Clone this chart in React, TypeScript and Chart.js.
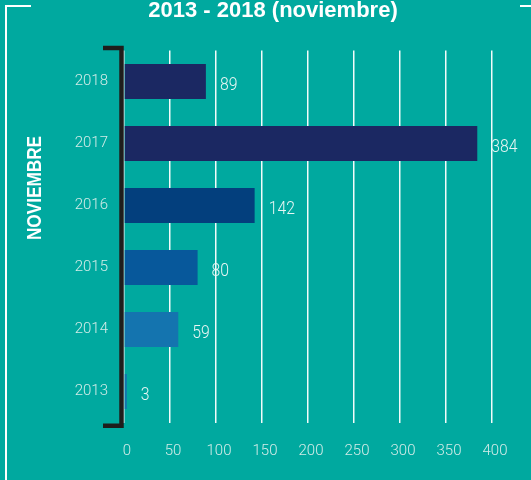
import React, { useEffect, useRef } from "react";
import { Chart, registerables } from "chart.js";

Chart.register(...registerables);

const categories = ["2018", "2017", "2016", "2015", "2014", "2013"];
const values = [89, 384, 142, 80, 59, 3];
const barColors = ["#1b2862", "#1b2862", "#033f7d", "#07589b", "#1474af", "#1474af"];
const xTicks = [0, 50, 100, 150, 200, 250, 300, 350, 400];
const titleText = "2013 - 2018 (noviembre)";
const axisTitle = "NOVIEMBRE";

const BG = "#00a99f";

const decorPlugin = {
  id: "decor",
  beforeDraw(chart: any) {
    const { ctx, width, height } = chart;
    ctx.save();
    ctx.fillStyle = BG;
    ctx.fillRect(0, 0, width, height);
    // white frame
    ctx.strokeStyle = "#ffffff";
    ctx.lineWidth = 2;
    ctx.beginPath();
    ctx.moveTo(31, 6);
    ctx.lineTo(6, 6);
    ctx.lineTo(6, height);
    ctx.moveTo(520, 6);
    ctx.lineTo(width, 6);
    ctx.stroke();
    // title
    ctx.fillStyle = "#ffffff";
    ctx.font = "bold 22px 'Liberation Sans', Arial, sans-serif";
    ctx.textAlign = "center";
    ctx.textBaseline = "alphabetic";
    ctx.fillText(titleText, 273, 16.5);
    // vertical axis title
    ctx.save();
    ctx.translate(35, 188);
    ctx.rotate(-Math.PI / 2);
    ctx.scale(0.86, 1);
    ctx.font = "bold 20px 'Liberation Sans', Arial, sans-serif";
    ctx.textBaseline = "middle";
    ctx.fillText(axisTitle, 0, 0);
    ctx.restore();
    ctx.restore();
  },
  afterDatasetsDraw(chart: any) {
    const { ctx, chartArea } = chart;
    ctx.save();
    // bracket
    ctx.strokeStyle = "#1e1e1c";
    ctx.lineWidth = 4.5;
    ctx.lineJoin = "miter";
    ctx.beginPath();
    ctx.moveTo(chartArea.left - 21, chartArea.top - 2.5);
    ctx.lineTo(chartArea.left - 2.5, chartArea.top - 2.5);
    ctx.lineTo(chartArea.left - 2.5, chartArea.bottom + 3.3);
    ctx.lineTo(chartArea.left - 21, chartArea.bottom + 3.3);
    ctx.stroke();
    // value labels
    const meta = chart.getDatasetMeta(0);
    ctx.fillStyle = "#e8f6f4";
    ctx.textAlign = "left";
    ctx.textBaseline = "middle";
    meta.data.forEach((bar: any, i: number) => {
      ctx.save();
      ctx.translate(bar.x + 14, bar.y + 3.5);
      ctx.scale(0.83, 1);
      ctx.font = "300 19px Roboto, 'Liberation Sans', sans-serif";
      ctx.fillText(String(values[i]), 0, 0);
      ctx.restore();
    });
    ctx.restore();
  },
};

export default function App() {
  const ref = useRef<HTMLCanvasElement | null>(null);
  useEffect(() => {
    if (!ref.current) return;
    const chart = new Chart(ref.current, {
      type: "bar",
      data: {
        labels: categories,
        datasets: [
          {
            data: values,
            backgroundColor: barColors,
            borderWidth: 0,
            barPercentage: 0.565,
            categoryPercentage: 1,
          },
        ],
      },
      options: {
        indexAxis: "y",
        animation: false,
        responsive: false,
        maintainAspectRatio: false,
        layout: { padding: { top: 50.5, right: 39, bottom: 0, left: 0 } },
        plugins: {
          legend: { display: false },
          title: { display: false },
          tooltip: { enabled: false },
        },
        scales: {
          x: {
            type: "linear",
            min: 0,
            max: 400,
            afterBuildTicks: (scale: any) => {
              scale.ticks = xTicks.map((v) => ({ value: v }));
            },
            afterFit: (scale: any) => {
              scale.height = 57.5;
            },
            grid: {
              color: "rgba(255,255,255,0.95)",
              lineWidth: 1.5,
              drawTicks: false,
            },
            border: { display: false },
            ticks: {
              padding: 20,
              labelOffset: 3,
              color: "#d2ece8",
              font: { family: "Roboto, 'Liberation Sans', sans-serif", size: 15, weight: "300" },
            },
          },
          y: {
            type: "category",
            afterFit: (scale: any) => {
              scale.width = 124;
            },
            grid: { display: false, drawTicks: false },
            border: { display: false },
            ticks: {
              padding: 16,
              color: "#d2ece8",
              font: { family: "Roboto, 'Liberation Sans', sans-serif", size: 15, weight: "300" },
            },
          },
        },
      },
      plugins: [decorPlugin],
    } as any);
    return () => chart.destroy();
  }, []);
  return (
    <div style={{ position: "absolute", left: 0, top: 0, width: 531, height: 480 }}>
      <canvas ref={ref} width={531} height={480} style={{ width: 531, height: 480, display: "block" }} />
    </div>
  );
}
